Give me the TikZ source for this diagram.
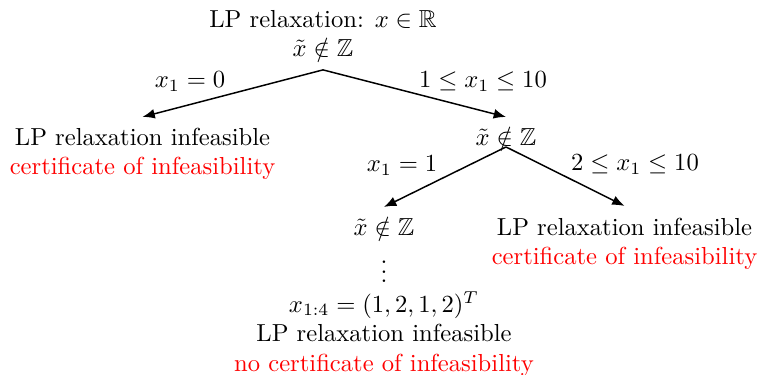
\documentclass[tikz,border=0pt]{standalone}
\usepackage{amssymb}
\usetikzlibrary{arrows.meta}
\begin{document}
\begin{tikzpicture}[x=0.4063pt,y=-0.4063pt,
  txt/.style={align=center,inner sep=0pt,outer sep=0pt},
  edge/.style={-{Latex[length=5pt,width=4pt]},line width=0.6pt}]
\useasboundingbox (0,0) rectangle (759,375);
% nodes (anchor north = first baseline minus first-line height)
\node[txt,anchor=north] (root) at (323,10) {LP relaxation: $x\in\mathbb{R}$\\ $\tilde{x}\notin\mathbb{Z}$};
\node[txt,anchor=north] (l1) at (142.5,128) {LP relaxation infeasible\\ \textcolor{red}{certificate of infeasibility}};
\node[txt,anchor=base] (r1) at (506,146) {$\tilde{x}\notin\mathbb{Z}$};
\node[txt,anchor=base] (l2) at (384,236) {$\tilde{x}\notin\mathbb{Z}$};
\node[txt,anchor=north] (r2) at (624.5,218) {LP relaxation infeasible\\ \textcolor{red}{certificate of infeasibility}};
\node[txt,anchor=base] (dots) at (384,283) {$\vdots$};
\node[txt,anchor=north] (leaf) at (384,291.5) {$x_{1:4}=(1,2,1,2)^T$\\ LP relaxation infeasible\\ \textcolor{red}{no certificate of infeasibility}};
% connectors
\draw[edge] ([yshift=-5pt]root.south) -- ([yshift=4.5pt]l1.north);
\draw[edge] ([yshift=-5pt]root.south) -- ([yshift=4.3pt]r1.north);
\draw[edge] (r1.south) -- ([yshift=4.3pt]l2.north);
\draw[edge] (r1.south) -- ([yshift=4.9pt]r2.north);
% edge labels
\node[txt,anchor=base] (e1) at (190,88) {$x_1=0$};
\node[txt,anchor=base] (e2) at (483,88) {$1\le x_1\le 10$};
\node[txt,anchor=base] (e3) at (402,172) {$x_1=1$};
\node[txt,anchor=base] (e4) at (635,171) {$2\le x_1\le 10$};
\end{tikzpicture}
\end{document}
